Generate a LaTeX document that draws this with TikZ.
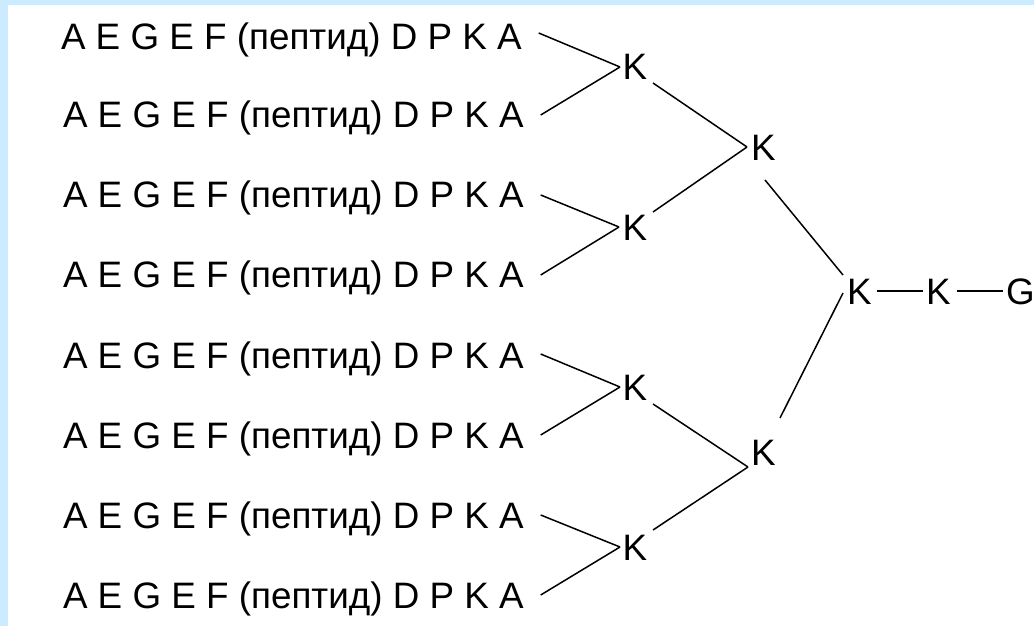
\documentclass[tikz,border=0pt]{standalone}
\usepackage{fontspec}
\setmainfont{Liberation Sans}
\definecolor{framebg}{RGB}{204,235,255}
\begin{document}
\begin{tikzpicture}[x=1pt,y=-1pt,
  lbl/.style={inner sep=0pt,outer sep=0pt,font=\fontsize{36.8}{40}\selectfont},
  rowlbl/.style={lbl,anchor=base west},
  kn/.style={lbl,anchor=base},
  link/.style={line width=1.5pt,black}]
\useasboundingbox (0,0) rectangle (1034,626);
\fill[framebg] (0,0) rectangle (1034,626);
\fill[white] (8,5) rectangle (1034,626);
% rows
\node[rowlbl] (r1) at (61,50) {A E G E F (пептид) D P K A};
\node[rowlbl] (r2) at (63,128) {A E G E F (пептид) D P K A};
\node[rowlbl] (r3) at (63,207) {A E G E F (пептид) D P K A};
\node[rowlbl] (r4) at (63,287) {A E G E F (пептид) D P K A};
\node[rowlbl] (r5) at (63,368) {A E G E F (пептид) D P K A};
\node[rowlbl] (r6) at (63,448) {A E G E F (пептид) D P K A};
\node[rowlbl] (r7) at (63,528) {A E G E F (пептид) D P K A};
\node[rowlbl] (r8) at (63,608) {A E G E F (пептид) D P K A};
% K nodes
\node[kn] (k1) at (635,80) {K};
\node[kn] (k2) at (635,240) {K};
\node[kn] (k3) at (635,400) {K};
\node[kn] (k4) at (635,560) {K};
\node[kn] (m1) at (763.5,160) {K};
\node[kn] (m2) at (763.5,465) {K};
\node[kn] (t) at (859.5,304) {K};
\node[kn] (u) at (938.5,304) {K};
\node[kn] (g) at (1020.5,304) {G};
% row connectors
\draw[link] ([shift={(17,-17)}]r1.base east) -- ([shift={(-15,-13)}]k1.base);
\draw[link] ([shift={(17,-13)}]r2.base east) -- ([shift={(-15,-13)}]k1.base);
\draw[link] ([shift={(17,-12)}]r3.base east) -- ([shift={(-16,-13)}]k2.base);
\draw[link] ([shift={(17,-12)}]r4.base east) -- ([shift={(-16,-13)}]k2.base);
\draw[link] ([shift={(17,-14)}]r5.base east) -- ([shift={(-15,-13)}]k3.base);
\draw[link] ([shift={(17,-13)}]r6.base east) -- ([shift={(-15,-13)}]k3.base);
\draw[link] ([shift={(17,-13)}]r7.base east) -- ([shift={(-15,-13)}]k4.base);
\draw[link] ([shift={(17,-13)}]r8.base east) -- ([shift={(-15,-13)}]k4.base);
% level 1 -> level 2
\draw[link] ([shift={(18,3)}]k1.base) -- ([shift={(-16.5,-13)}]m1.base);
\draw[link] ([shift={(18,-28)}]k2.base) -- ([shift={(-16.5,-13)}]m1.base);
\draw[link] ([shift={(18,4)}]k3.base) -- ([shift={(-15.5,2)}]m2.base);
\draw[link] ([shift={(18,-30)}]k4.base) -- ([shift={(-15.5,2)}]m2.base);
% level 2 -> level 3
\draw[link] ([shift={(1.5,20)}]m1.base) -- ([shift={(-16.5,-29)}]t.base);
\draw[link] ([shift={(16.5,-47)}]m2.base) -- ([shift={(-16.5,-11)}]t.base);
% chain
\draw[link] ([shift={(17.5,-13)}]t.base) -- ([shift={(-15.5,-13)}]u.base);
\draw[link] ([shift={(18.5,-13)}]u.base) -- ([shift={(-17.5,-13)}]g.base);
\end{tikzpicture}
\end{document}
